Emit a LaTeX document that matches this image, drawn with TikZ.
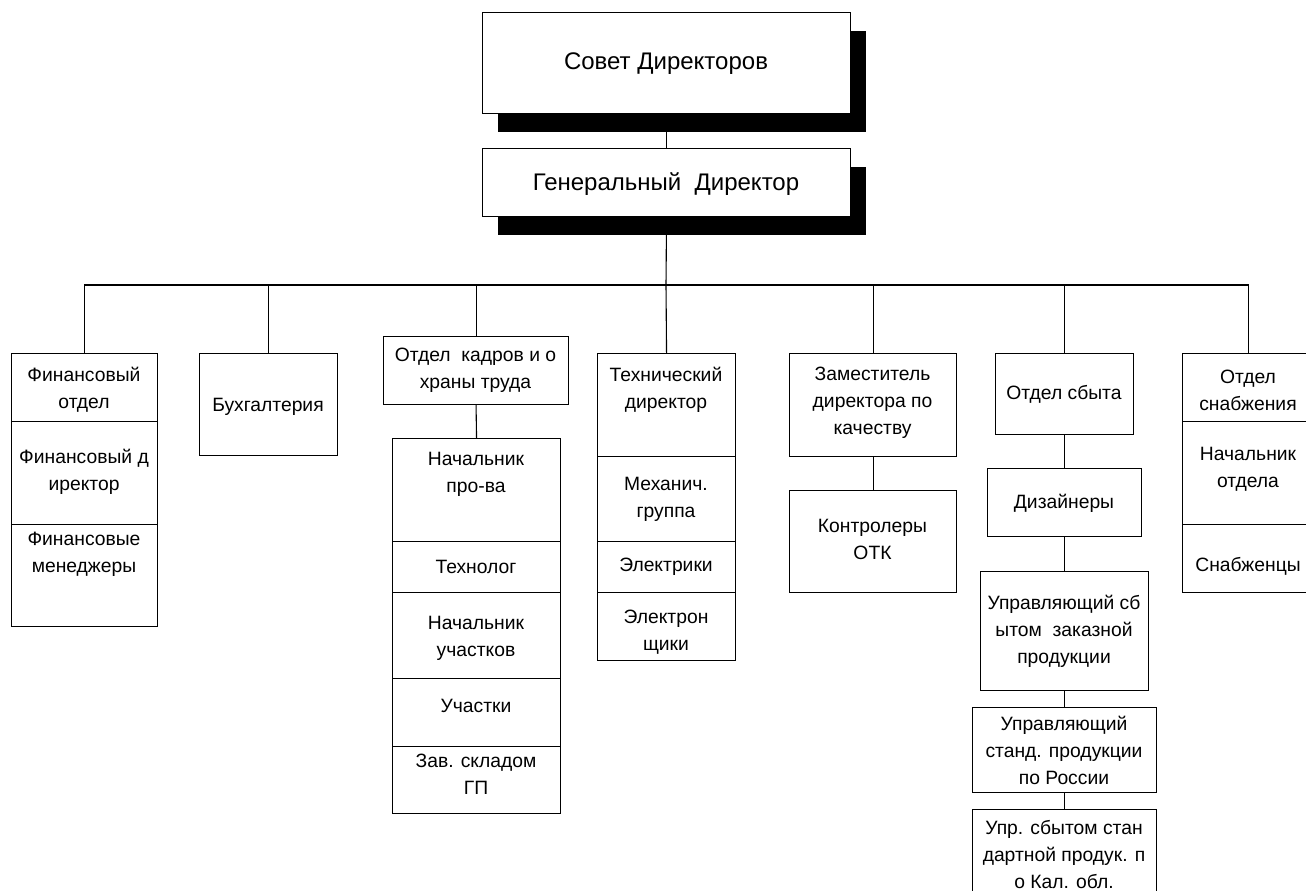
\documentclass[tikz,border=0pt]{standalone}
\usepackage{fontspec}
\setmainfont{Liberation Sans}
\usetikzlibrary{shadows}
\tikzset{
  box/.style={draw=black, line width=1.1pt, fill=white, inner sep=0pt, anchor=north west},
  shbox/.style={box, drop shadow={shadow xshift=15pt, shadow yshift=-18pt, fill=black, opacity=1}},
  tx/.style={inner sep=0pt, anchor=north, align=center, font=\fontsize{19.3}{27}\selectfont},
  bigtx/.style={inner sep=0pt, anchor=north, align=center, font=\fontsize{24}{29}\selectfont},
  conn/.style={draw=black, line width=1.1pt}
}
\newcommand\cellbox[5]{\node[box, minimum width={#4-#2}, minimum height={#5-#3}] (#1) at (#2,#3) {};}
\newcommand\shcellbox[5]{\node[shbox, minimum width={#4-#2}, minimum height={#5-#3}] (#1) at (#2,#3) {};}
\begin{document}
\begin{tikzpicture}[x=1pt, y=-1pt]
\useasboundingbox (0,0) rectangle (1306,891);
\clip (0,0) rectangle (1306,891);
\fill[white] (0,0) rectangle (1306,891);

% top boxes
\shcellbox{sovet}{482}{12}{850}{113}
\node[bigtx] (sovet-t) at (666,53) {Совет Директоров};
\shcellbox{gen}{482}{148}{850}{216}
\node[bigtx] (gen-t) at (666,172) {Генеральный\ \ Директор};

% financial
\cellbox{fin1}{11}{353}{157}{421}
\cellbox{fin2}{11}{421}{157}{524}
\cellbox{fin3}{11}{524}{157}{626}
\node[tx] (fin1-t) at (84,367) {Финансовый\\отдел};
\node[tx] (fin2-t) at (84,449) {Финансовый д\\иректор};
\node[tx] (fin3-t) at (84,532) {Финансовые\\менеджеры};

% accounting
\cellbox{buh}{199}{353}{337}{455}
\node[tx] (buh-t) at (268,398) {Бухгалтерия};

% HR
\cellbox{kad}{383}{336}{568}{404}
\node[tx] (kad-t) at (475.5,348) {Отдел\ \ кадров и о\\храны труда};
\cellbox{pr1}{392}{438}{560}{541}
\cellbox{pr2}{392}{541}{560}{592}
\cellbox{pr3}{392}{592}{560}{678}
\cellbox{pr4}{392}{678}{560}{746}
\cellbox{pr5}{392}{746}{560}{813}
\node[tx] (pr1-t) at (476,452) {Начальник\\про-ва};
\node[tx] (pr2-t) at (476,560) {Технолог};
\node[tx] (pr3-t) at (476,616) {Начальник\\участков};
\node[tx] (pr4-t) at (476,699) {Участки};
\node[tx] (pr5-t) at (476,754) {Зав. складом\\ГП};

% technical
\cellbox{t1}{597}{353}{735}{456}
\cellbox{t2}{597}{456}{735}{541}
\cellbox{t3}{597}{541}{735}{592}
\cellbox{t4}{597}{592}{735}{660}
\node[tx] (t1-t) at (666,367) {Технический\\директор};
\node[tx] (t2-t) at (666,477) {Механич.\\группа};
\node[tx] (t3-t) at (666,558) {Электрики};
\node[tx] (t4-t) at (666,610) {Электрон\\щики};

% quality
\cellbox{zam}{789}{353}{956}{456}
\node[tx] (zam-t) at (872.5,367) {Заместитель\\директора по\\качеству};
\cellbox{kon}{789}{490}{956}{592}
\node[tx] (kon-t) at (872.5,519) {Контролеры\\ОТК};

% sales
\cellbox{sbyt}{995}{353}{1133}{434}
\node[tx] (sbyt-t) at (1064,385) {Отдел сбыта};
\cellbox{diz}{987}{468}{1141}{536}
\node[tx] (diz-t) at (1064,494) {Дизайнеры};
\cellbox{us1}{980}{571}{1148}{690}
\node[tx] (us1-t) at (1064,595) {Управляющий сб\\ытом\ \ заказной\\продукции};
\cellbox{us2}{972}{707}{1156}{792}
\node[tx] (us2-t) at (1064,716) {Управляющий\\станд. продукции\\по России};
\cellbox{us3}{972}{809}{1156}{905}
\node[tx] (us3-t) at (1064,820) {Упр. сбытом стан\\дартной продук. п\\о Кал. обл.};

% supply
\cellbox{sn1}{1182}{353}{1314}{421}
\cellbox{sn2}{1182}{421}{1314}{524}
\cellbox{sn3}{1182}{524}{1314}{592}
\node[tx] (sn1-t) at (1248,370) {Отдел\\снабжения};
\node[tx] (sn2-t) at (1248,447) {Начальник\\отдела};
\node[tx] (sn3-t) at (1248,557) {Снабженцы};

% connectors
\coordinate (bus) at (666,285);
\draw[conn] (sovet.south) -- (gen.north);
\draw[conn] (gen.south) -- (bus);
\draw[conn] (fin1.north) |- (bus);
\draw[conn] (buh.north) |- (bus);
\draw[conn] (kad.north) |- (bus);
\draw[conn] (t1.north) -- (bus);
\draw[conn] (zam.north) |- (bus);
\draw[conn] (sbyt.north) |- (bus);
\draw[conn] (sn1.north) |- (bus);
\draw[conn] (kad.south) -- (pr1.north);
\draw[conn] (zam.south) -- (kon.north);
\draw[conn] (sbyt.south) -- (diz.north);
\draw[conn] (diz.south) -- (us1.north);
\draw[conn] (us1.south) -- (us2.north);
\draw[conn] (us2.south) -- (us3.north);
\end{tikzpicture}
\end{document}
